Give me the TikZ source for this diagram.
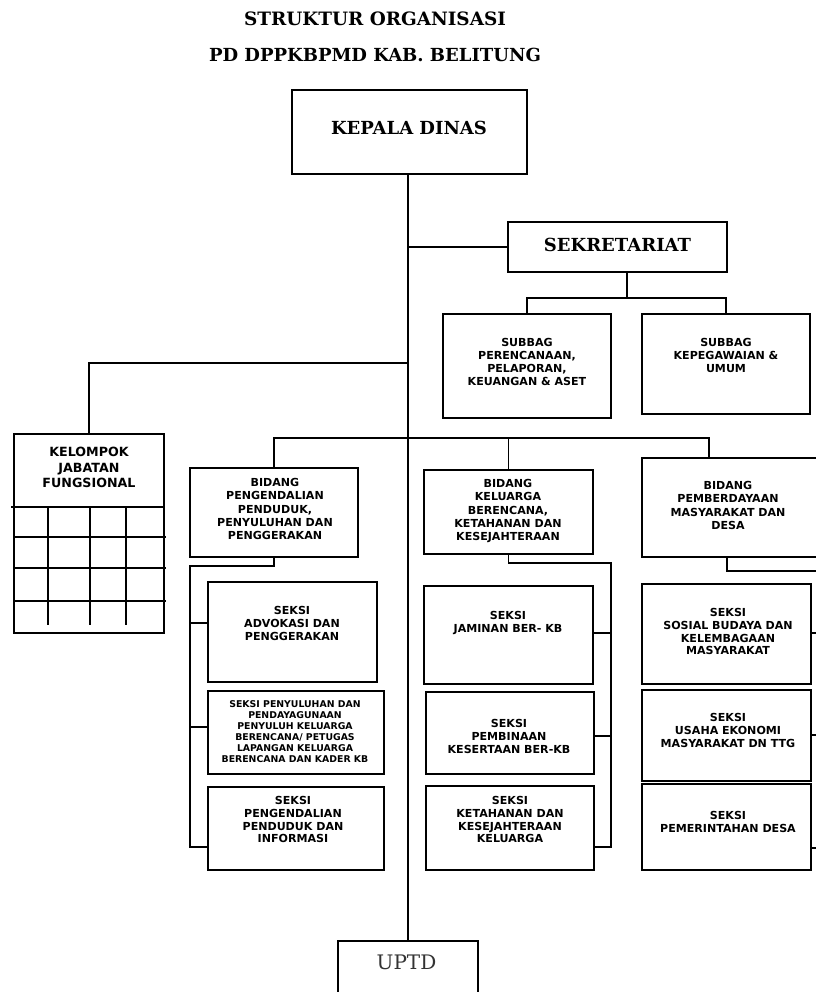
\documentclass[tikz,border=0pt]{standalone}
\usepackage{fontspec}
\setmainfont{DejaVu Serif}
\setsansfont{DejaVu Sans}

\begin{document}
\begin{tikzpicture}[x=0.75pt, y=-0.75pt,
        conn/.style={line width=1.2pt},
        box/.style={draw, line width=1.2pt, rectangle, inner sep=0pt},
        sz/.style 2 args={minimum width=#1*0.75pt, minimum height=#2*0.75pt},
        head/.style={font=\bfseries\fontsize{13.8}{16}\selectfont, inner sep=0pt, anchor=base},
        lbl/.style={font=\sffamily\bfseries\fontsize{8.3}{9.6}\selectfont, align=center, inner sep=0pt, anchor=north},
        lblbid/.style={lbl, font=\sffamily\bfseries\fontsize{8.3}{10}\selectfont},
        lblsmall/.style={lbl, font=\sffamily\bfseries\fontsize{7}{8.3}\selectfont},
        lblbig/.style={lbl, font=\sffamily\bfseries\fontsize{9.5}{11.6}\selectfont}]
    \clip (0, 0) rectangle (816, 992);
    \fill[white] (0, 0) rectangle (816, 992);

    % judul
    \node[head] at (375, 25) (judul1) {STRUKTUR ORGANISASI};
    \node[head, font=\bfseries\fontsize{13.5}{16}\selectfont] at (375, 61) (judul2) {PD DPPKBPMD KAB. BELITUNG};

    % pimpinan dan sekretariat
    \node[box, sz={235}{84}] at (409.5, 132) (kd) {};
    \node[head, font=\bfseries\fontsize{13.5}{16}\selectfont] at (409, 134.5) (kdt) {KEPALA DINAS};
    \node[box, sz={219}{50}] at (617.5, 247) (sek) {};
    \node[head, font=\bfseries\fontsize{13.5}{16}\selectfont] at (617.5, 251) (sekt) {SEKRETARIAT};
    \node[box, sz={168}{104}] at (527, 366) (sb1) {};
    \node[lbl, font=\sffamily\bfseries\fontsize{8.3}{9.8}\selectfont] at (527, 338) (sb1t) {SUBBAG\\PERENCANAAN,\\PELAPORAN,\\KEUANGAN \& ASET};
    \node[box, sz={168}{100}] at (726, 364) (sb2) {};
    \node[lbl, font=\sffamily\bfseries\fontsize{8.3}{9.8}\selectfont] at (726, 338) (sb2t) {SUBBAG\\KEPEGAWAIAN \&\\UMUM};

    % kelompok jabatan fungsional
    \node[box, sz={150}{199}] at (89, 533.5) (kjf) {};
    \node[lblbig] at (89, 447) (kjft) {KELOMPOK\\JABATAN\\FUNGSIONAL};
    \draw[conn] (11, 507) -- (164, 507);
    \foreach \yy in {537, 568, 601}
        \draw[conn] (14, \yy) -- (166, \yy);
    \foreach \xx in {48, 90, 126}
        \draw[conn] (\xx, 507) -- (\xx, 625);

    % bidang
    \node[box, sz={168}{89}] at (274, 512.5) (bid1) {};
    \node[lblbid] at (275, 478) (bid1t) {BIDANG\\PENGENDALIAN\\PENDUDUK,\\PENYULUHAN DAN\\PENGGERAKAN};
    \node[box, sz={169}{84}] at (508.5, 512) (bid2) {};
    \node[lblbid] at (508, 479) (bid2t) {BIDANG\\KELUARGA\\BERENCANA,\\KETAHANAN DAN\\KESEJAHTERAAN};
    \node[box, sz={188}{99}] at (736, 507.5) (bid3) {};
    \node[lblbid] at (728, 481) (bid3t) {BIDANG\\PEMBERDAYAAN\\MASYARAKAT DAN\\DESA};

    % seksi bidang 1
    \node[box, sz={169}{100}] at (292.5, 632) (s11) {};
    \node[lbl] at (292, 606) (s11t) {SEKSI\\ADVOKASI DAN\\PENGGERAKAN};
    \node[box, sz={176}{83}] at (296, 732.5) (s12) {};
    \node[lblsmall] at (295, 700) (s12t) {SEKSI PENYULUHAN DAN\\PENDAYAGUNAAN\\PENYULUH KELUARGA\\BERENCANA/ PETUGAS\\LAPANGAN KELUARGA\\BERENCANA DAN KADER KB};
    \node[box, sz={176}{83}] at (296, 828.5) (s13) {};
    \node[lbl] at (293, 796) (s13t) {SEKSI\\PENGENDALIAN\\PENDUDUK DAN\\INFORMASI};

    % seksi bidang 2
    \node[box, sz={169}{98}] at (508.5, 635) (s21) {};
    \node[lbl] at (508, 611) (s21t) {SEKSI\\JAMINAN BER- KB};
    \node[box, sz={168}{82}] at (510, 733) (s22) {};
    \node[lbl] at (509, 719) (s22t) {SEKSI\\PEMBINAAN\\KESERTAAN BER-KB};
    \node[box, sz={168}{84}] at (510, 828) (s23) {};
    \node[lbl] at (510, 796) (s23t) {SEKSI\\KETAHANAN DAN\\KESEJAHTERAAN\\KELUARGA};

    % seksi bidang 3
    \node[box, sz={169}{100}] at (726.5, 634) (s31) {};
    \node[lbl] at (728, 608) (s31t) {SEKSI\\SOSIAL BUDAYA DAN\\KELEMBAGAAN\\MASYARAKAT};
    \node[box, sz={169}{91}] at (726.5, 735.5) (s32) {};
    \node[lbl] at (728, 713) (s32t) {SEKSI\\USAHA EKONOMI\\MASYARAKAT DN TTG};
    \node[box, sz={169}{86}] at (726.5, 827) (s33) {};
    \node[lbl] at (728, 811) (s33t) {SEKSI\\PEMERINTAHAN DESA};

    % uptd
    \node[box, sz={140}{69}] at (408, 975.5) (uptd) {};
    \node[head, font=\fontsize{15}{18}\selectfont, text=black!80] at (406.5, 969) (uptdt) {UPTD};

    % garis komando
    \coordinate (jsek) at (627, 298);
    \coordinate (jkjf) at (408, 363);
    \coordinate (d3) at (709, 438);
    \draw[conn] (uptd.north |- kd.south) -- (uptd.north);
    \draw[conn] (uptd.north |- sek.west) -- (sek.west);
    \draw[conn] (jsek |- sek.south) -- (jsek);
    \draw[conn] (sb1.north) |- (jsek) -| (sb2.north);
    \draw[conn] (jkjf) -| (kjf.north);
    \draw[conn] (bid1.north) |- (d3) -- (d3 |- bid3.north);
    \draw[conn] (bid2.north) -- (bid2.north |- d3);

    % garis seksi
    \coordinate (r1t) at (190, 566);
    \coordinate (r1a) at (190, 623);
    \coordinate (r1b) at (190, 727);
    \coordinate (r1c) at (190, 847);
    \draw[conn] (bid1.south) |- (r1t) -- (r1c) -- (r1c -| s13.west);
    \draw[conn] (r1a) -- (r1a -| s11.west);
    \draw[conn] (r1b) -- (r1b -| s12.west);

    \coordinate (r2t) at (611, 563);
    \coordinate (r2a) at (611, 633);
    \coordinate (r2b) at (611, 736);
    \coordinate (r2c) at (611, 847);
    \draw[conn] (bid2.south) |- (r2t) -- (r2c) -- (r2c -| s23.east);
    \draw[conn] (r2a) -- (r2a -| s21.east);
    \draw[conn] (r2b) -- (r2b -| s22.east);

    \coordinate (b3) at (727, 557);
    \coordinate (r3t) at (830, 571);
    \coordinate (r3a) at (830, 633);
    \coordinate (r3b) at (830, 735);
    \coordinate (r3c) at (830, 848);
    \draw[conn] (b3) |- (r3t) -- (r3c) -- (r3c -| s33.east);
    \draw[conn] (r3a) -- (r3a -| s31.east);
    \draw[conn] (r3b) -- (r3b -| s32.east);
\end{tikzpicture}
\end{document}
